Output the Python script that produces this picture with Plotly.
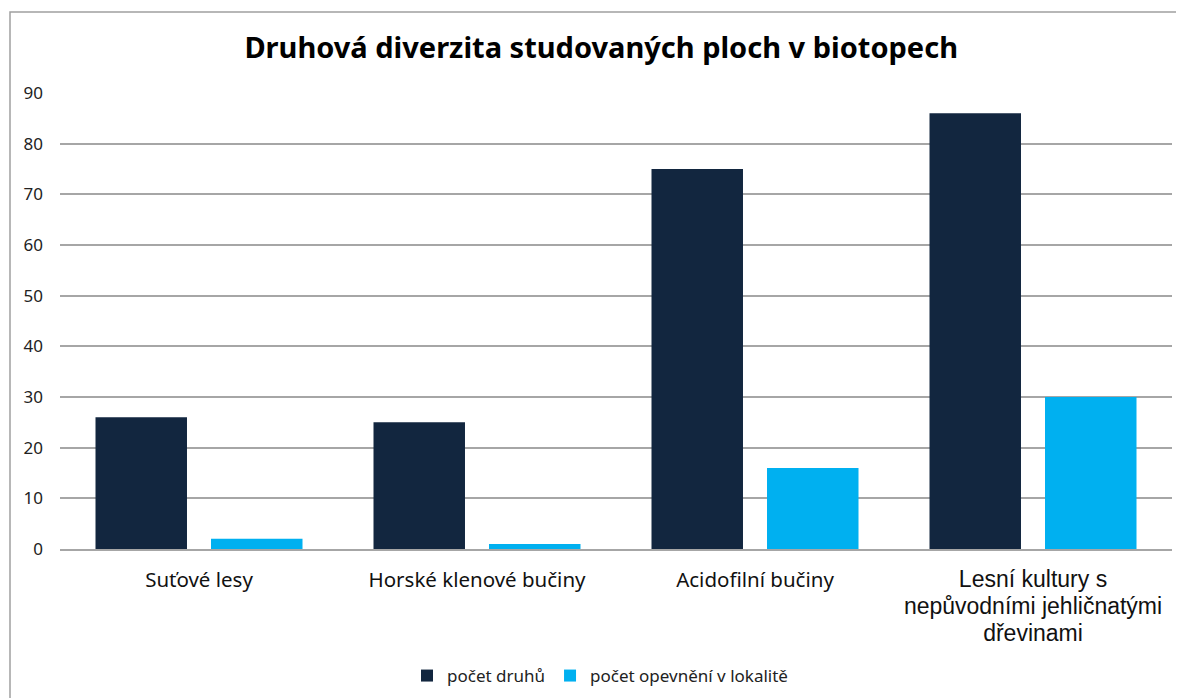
import plotly.graph_objects as go

categories = ["Suťové lesy", "Horské klenové bučiny", "Acidofilní bučiny",
              "Lesní kultury s nepůvodními jehličnatými dřevinami"]
tick_labels = ["Suťové lesy", "Horské klenové bučiny", "Acidofilní bučiny",
               "<span style='font-family:Liberation Sans, Arial;font-size:23px'>Lesní kultury s<br>nepůvodními jehličnatými<br>dřevinami</span>"]
pocet_druhu = [26, 25, 75, 86]
pocet_opevneni = [2, 1, 16, 30]

fig = go.Figure()
fig.add_trace(go.Bar(x=categories, y=pocet_druhu, name="počet druhů",
                     marker=dict(color="#12263f", line=dict(width=0))))
fig.add_trace(go.Bar(x=categories, y=pocet_opevneni, name="počet opevnění v lokalitě",
                     marker=dict(color="#00b0f0", line=dict(width=0))))

# page body has an 8px default margin, so offsets are compensated
L, R, T, B = 52, 20, 85, 157
W, H = 1184, 698
pw, ph = W - L - R, H - T - B

fig.update_layout(
    width=W, height=H,
    margin=dict(l=L, r=R, t=T, b=B),
    paper_bgcolor="white", plot_bgcolor="white",
    barmode="group", bargap=0.169, bargroupgap=0.208,
    font=dict(family="Noto Sans, Open Sans, sans-serif", color="#222222"),
    title=dict(text="<b>Druhová diverzita studovaných ploch v biotopech</b>",
               x=0.501, xanchor="center", y=1 - 40 / H, yanchor="middle",
               font=dict(size=29, color="#000000", family="Noto Sans, sans-serif")),
    showlegend=True,
    legend=dict(orientation="h", x=0.4856, xanchor="center", y=(541 - 668) / ph,
                yanchor="middle", font=dict(size=17, color="#222222"),
                itemwidth=30, traceorder="normal"),
    xaxis=dict(tickvals=categories, ticktext=tick_labels, showgrid=False,
               showline=True, linecolor="#a6a6a6", linewidth=1.5,
               tickfont=dict(size=20.5, color="#111111"), ticks="",
               ticklabelstandoff=12),
    yaxis=dict(range=[0, 90], dtick=10, showgrid=True, gridcolor="#a6a6a6",
               gridwidth=1.5, zeroline=False, showline=False, ticks="",
               tickfont=dict(size=17, color="#222222"), ticklabelstandoff=16),
    shapes=[dict(type="rect", xref="paper", yref="paper",
                 x0=(2 - L) / pw, x1=1.05, y0=-0.5, y1=1 + (T - 4) / ph,
                 line=dict(color="#a0a0a0", width=1.5), fillcolor="rgba(0,0,0,0)",
                 layer="below")],
)

fig.write_html("out.html")
